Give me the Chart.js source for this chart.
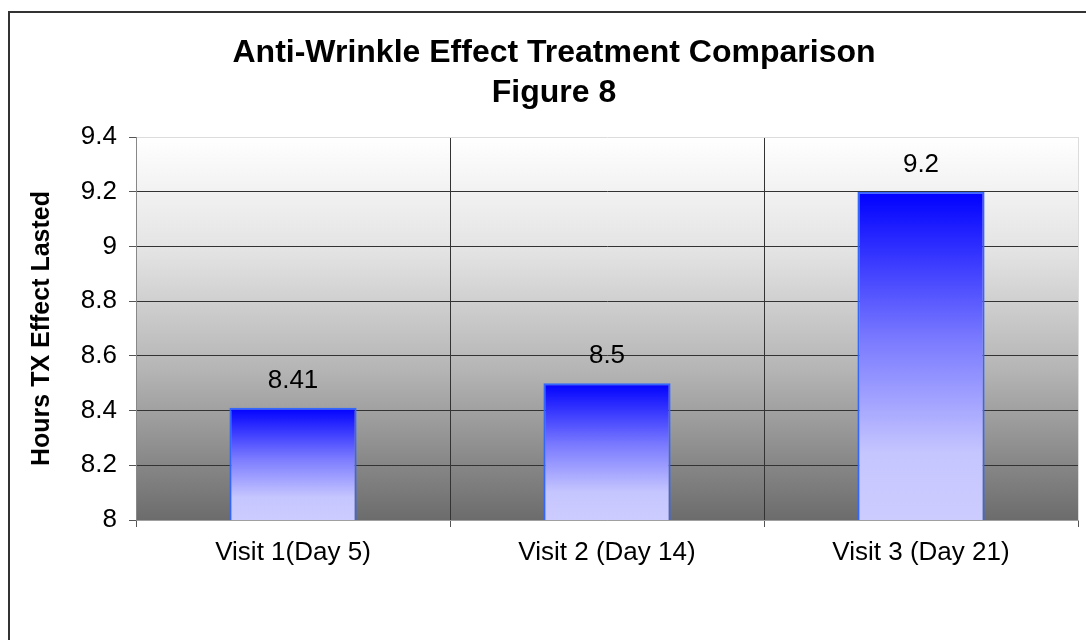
<!DOCTYPE html>
<html lang="en">
<head>
    <meta charset="UTF-8">
    <title>Anti-Wrinkle Effect Treatment Comparison</title>
    <style>
        html, body {
            margin: 0;
            padding: 0;
            background: white;
            overflow: hidden;
        }
        canvas {
            display: block;
        }
    </style>
    <script src="https://cdn.jsdelivr.net/npm/chart.js@4.4.1/dist/chart.umd.min.js"></script>
</head>
<body>
    <canvas id="myChart" width="1086" height="640"></canvas>
    <script>
        // data
        const visits = ['Visit 1(Day 5)', 'Visit 2 (Day 14)', 'Visit 3 (Day 21)'];
        const hoursLasted = [8.41, 8.5, 9.2];
        const yTickLabels = ['8', '8.2', '8.4', '8.6', '8.8', '9', '9.2', '9.4'];

        const FONT = "'Liberation Sans', Arial, sans-serif";

        // white page, the dark frame and the grey plot background
        const backdrop = {
            id: 'backdrop',
            beforeDraw(chart) {
                const ctx = chart.ctx;
                const a = chart.chartArea;
                ctx.save();
                ctx.fillStyle = '#ffffff';
                ctx.fillRect(0, 0, chart.width, chart.height);
                ctx.strokeStyle = '#333333';
                ctx.lineWidth = 2;
                ctx.strokeRect(9, 12, chart.width + 40, chart.height + 40);
                const g = ctx.createLinearGradient(0, a.top, 0, a.bottom);
                g.addColorStop(0, '#ffffff');
                g.addColorStop(0.3, '#e3e3e3');
                g.addColorStop(0.6, '#b6b6b6');
                g.addColorStop(1, '#6c6c6c');
                ctx.fillStyle = g;
                ctx.fillRect(a.left, a.top, a.right - a.left, a.bottom - a.top);
                ctx.restore();
            }
        };

        // value above each bar
        const barValues = {
            id: 'barValues',
            afterDatasetsDraw(chart) {
                const ctx = chart.ctx;
                const meta = chart.getDatasetMeta(0);
                ctx.save();
                ctx.font = '26px ' + FONT;
                ctx.fillStyle = '#000000';
                ctx.textAlign = 'center';
                ctx.textBaseline = 'middle';
                meta.data.forEach((bar, i) => {
                    ctx.fillText(String(hoursLasted[i]), bar.x, bar.y - 27);
                });
                ctx.restore();
            }
        };

        function barFill(context) {
            const chart = context.chart;
            const a = chart.chartArea;
            if (!a || context.dataIndex === undefined) return '#6f6fff';
            const top = chart.scales.y.getPixelForValue(hoursLasted[context.dataIndex]);
            const g = chart.ctx.createLinearGradient(0, top, 0, a.bottom);
            g.addColorStop(0, '#0000ff');
            g.addColorStop(0.45, '#7a7aff');
            g.addColorStop(0.8, '#c6c6ff');
            g.addColorStop(1, '#ccccff');
            return g;
        }

        const ctx = document.getElementById('myChart').getContext('2d');
        new Chart(ctx, {
            type: 'bar',
            data: {
                labels: visits,
                datasets: [{
                    data: hoursLasted,
                    backgroundColor: barFill,
                    borderColor: '#3366ff',
                    borderWidth: 2,
                    borderSkipped: false,
                    barPercentage: 0.405,
                    categoryPercentage: 1
                }]
            },
            plugins: [backdrop, barValues],
            options: {
                responsive: false,
                animation: false,
                devicePixelRatio: 1,
                layout: {
                    padding: { left: 30, right: 8, top: 33, bottom: 0 }
                },
                plugins: {
                    legend: { display: false },
                    tooltip: { enabled: false },
                    title: {
                        display: true,
                        text: ['Anti-Wrinkle Effect Treatment Comparison', 'Figure 8'],
                        color: '#000000',
                        font: { family: FONT, size: 32, weight: 'bold', lineHeight: 1.25 },
                        padding: { top: 0, bottom: 24 }
                    }
                },
                scales: {
                    x: {
                        offset: true,
                        afterFit(scale) { scale.height = 120; },
                        grid: {
                            offset: true,
                            tickLength: 7,
                            tickColor: '#555555',
                            color(c) {
                                if (c.index === undefined) return '#dcdcdc';
                                return c.index === 0 ? '#888888' : '#333333';
                            }
                        },
                        border: { color: '#a0a0a0', width: 1 },
                        ticks: {
                            color: '#000000',
                            padding: 10,
                            maxRotation: 0,
                            font: { family: FONT, size: 26 }
                        }
                    },
                    y: {
                        min: 8,
                        max: 9.4,
                        afterFit(scale) { scale.width = 106; },
                        grid: {
                            tickLength: 7,
                            tickColor: '#555555',
                            color(c) {
                                if (c.index === 0) return '#a0a0a0';
                                return c.tick && c.tick.value > 9.3 ? '#dcdcdc' : '#333333';
                            }
                        },
                        border: { color: '#888888', width: 1 },
                        ticks: {
                            stepSize: 0.2,
                            color: '#000000',
                            padding: 12,
                            font: { family: FONT, size: 26 },
                            callback: (v, i) => yTickLabels[i]
                        },
                        title: {
                            display: true,
                            text: 'Hours TX Effect Lasted',
                            color: '#000000',
                            font: { family: FONT, size: 25, weight: 'bold', lineHeight: 1 },
                            padding: 0
                        }
                    }
                }
            }
        });
    </script>
</body>
</html>
